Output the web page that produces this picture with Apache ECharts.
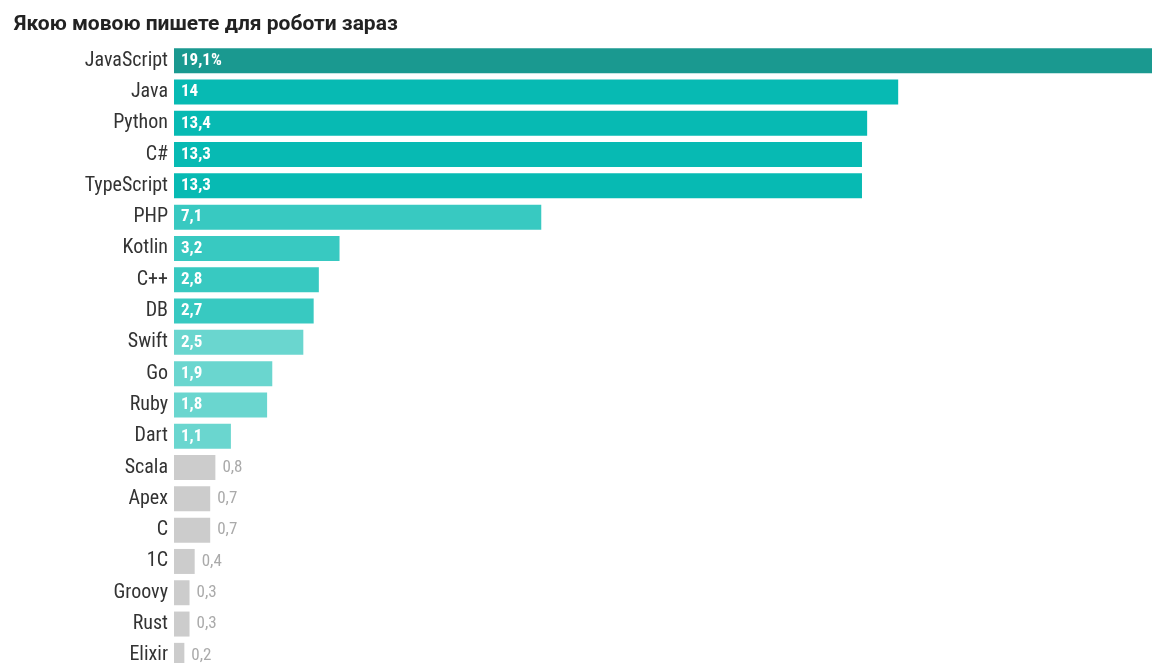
<!DOCTYPE html>
<html>
<head>
<meta charset="utf-8">
<script src="https://cdn.jsdelivr.net/npm/echarts@6/dist/echarts.min.js"></script>
<style>
html,body{margin:0;padding:0;background:#fff;overflow:hidden;}
/* chart box runs a bit past the window so the longest bar and last row get cut like in the original */
#chart{width:1162px;height:671px;}
</style>
</head>
<body>
<div id="chart"></div>
<script>
var languages = ['JavaScript','Java','Python','C#','TypeScript','PHP','Kotlin','C++','DB','Swift','Go','Ruby','Dart','Scala','Apex','C','1C','Groovy','Rust','Elixir'];
var shares = [19.1,14,13.4,13.3,13.3,7.1,3.2,2.8,2.7,2.5,1.9,1.8,1.1,0.8,0.7,0.7,0.4,0.3,0.3,0.2];
var groups = [0,1,1,1,1,2,2,2,2,3,3,3,3,4,4,4,4,4,4,4];
var groupColors = ['#1a9990','#07bab3','#38c9c1','#6ad6cf','#cccccc'];

// use Roboto Condensed if it is installed, plain Roboto otherwise
function hasCondensed(){
	var c = document.createElement('canvas').getContext('2d');
	c.font = '20px Roboto';
	var w1 = c.measureText('JavaScript Groovy').width;
	c.font = '20px "Roboto Condensed", Roboto';
	return c.measureText('JavaScript Groovy').width != w1;
}
var cond = hasCondensed();
var catFont = cond ? 'Roboto Condensed' : 'Roboto';
var catSize = cond ? 20 : 18;
var valSize = cond ? 17 : 15;

var myChart = echarts.init(document.getElementById('chart'));

var seriesData = shares.map(function(v, i){
	var grey = groups[i] == 4;
	return {
		value: v,
		itemStyle: {color: groupColors[groups[i]]},
		label: grey ? {position:'right', distance:7, color:'#aaaaaa', fontWeight:'normal'}
		            : {position:'insideLeft', distance:7, color:'#ffffff', fontWeight:'bold'}
	};
});

myChart.setOption({
	animation: false,
	title: {
		text: 'Якою мовою пишете для роботи зараз',
		left: 9,
		top: 9,
		textStyle: {fontFamily:'Roboto', fontSize:21, fontWeight:'bold', color:'#222'}
	},
	grid: {left:174, right:0, top:45, bottom:0, containLabel:false},
	xAxis: {
		type: 'value',
		min: 0,
		max: 19.1,
		show: false
	},
	yAxis: {
		type: 'category',
		data: languages,
		inverse: true,
		axisLine: {show:false},
		axisTick: {show:false},
		axisLabel: {fontFamily:catFont, fontSize:catSize, color:'#333', margin:6}
	},
	series: [{
		type: 'bar',
		barWidth: 25,
		data: seriesData,
		label: {
			show: true,
			fontFamily: catFont,
			fontSize: valSize,
			formatter: function(p){
				return String(p.value).replace('.', ',') + (p.dataIndex == 0 ? '%' : '');
			}
		}
	}]
});
window.onresize = myChart.resize;
</script>
</body>
</html>
